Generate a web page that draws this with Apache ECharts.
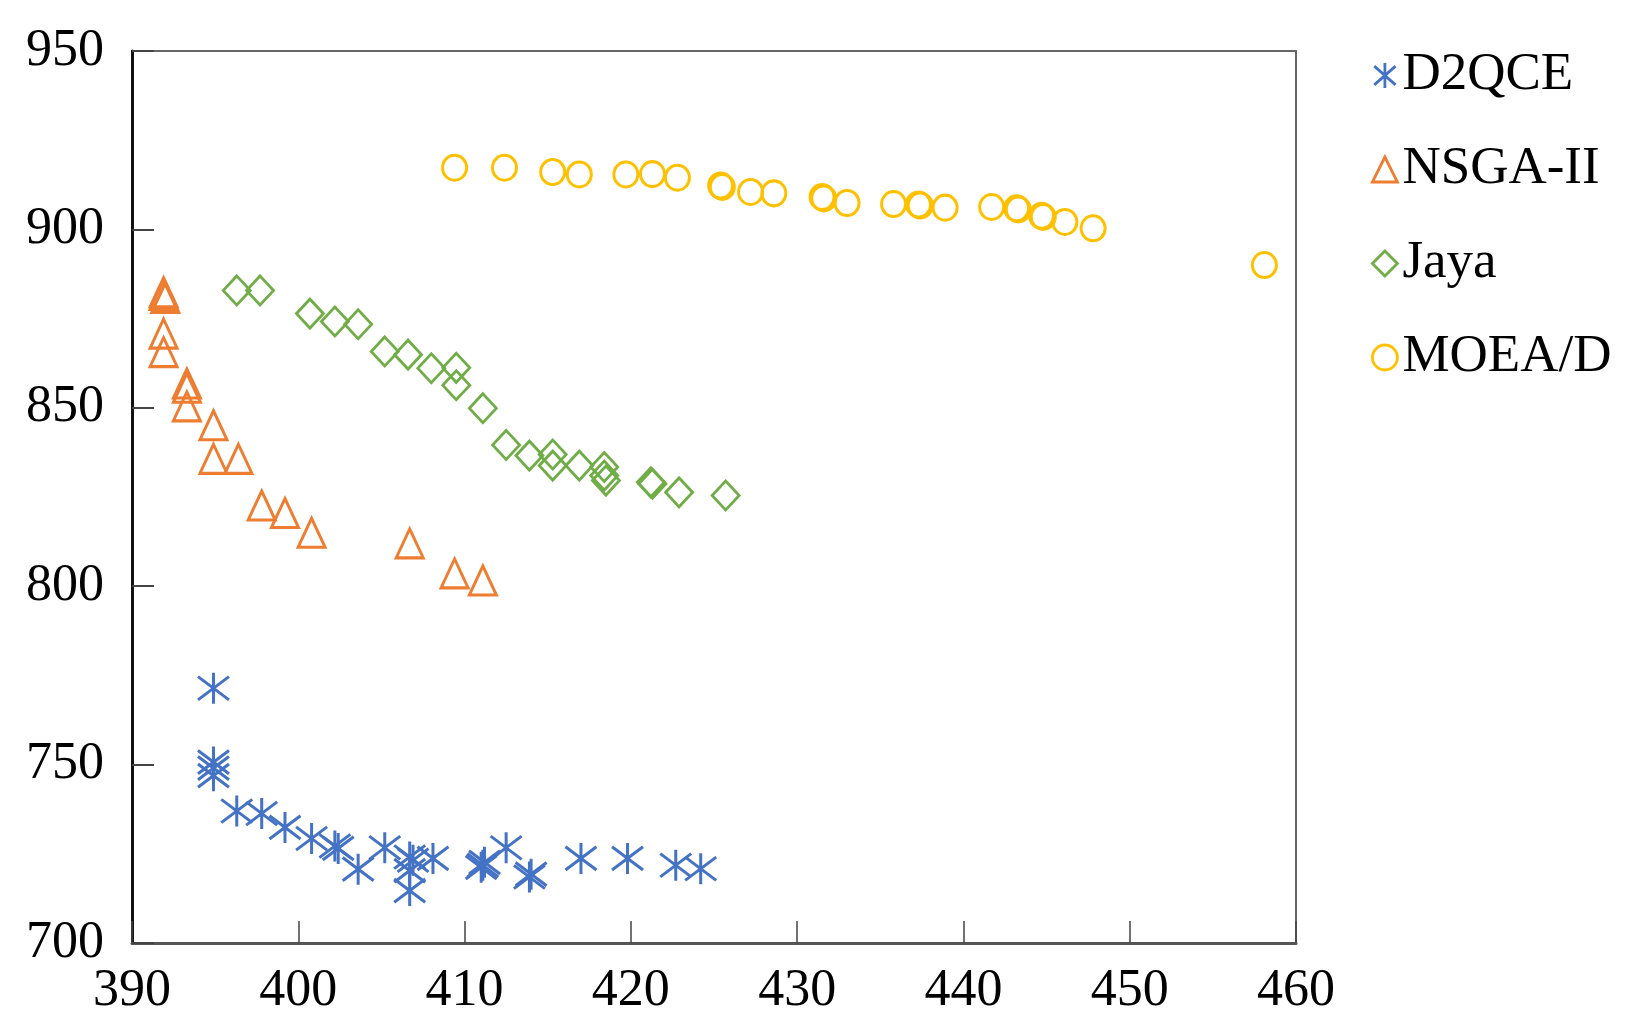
<!DOCTYPE html>
<html>
<head>
<meta charset="utf-8">
<script src="https://cdn.jsdelivr.net/npm/echarts@6/dist/echarts.min.js"></script>
<style>
  html, body { margin: 0; padding: 0; background: #fff; }
  #main { width: 1627px; height: 1028px; }
</style>
</head>
<body>
<div id="main"></div>
<script>
// values, [x, y]
const d2qce = [
  [394.9, 771.4], [394.9, 750.7], [394.9, 749.0], [394.9, 746.9], [396.3, 737.0],
  [397.8, 736.3], [399.2, 732.4], [400.8, 729.3], [402.2, 727.2], [402.4, 726.5],
  [403.6, 720.7], [405.2, 726.7], [406.7, 724.1], [406.9, 723.2], [406.7, 720.3],
  [406.7, 714.7], [408.1, 723.7], [411.1, 721.8], [411.2, 722.6], [411.0, 721.2],
  [412.5, 726.7], [413.9, 718.5], [414.0, 719.3], [417.0, 723.7], [419.8, 723.7],
  [422.7, 721.8], [424.2, 720.8]
];
const nsga2 = [
  [391.9, 882.4], [391.9, 881.6], [392.0, 880.8], [391.9, 870.8], [391.9, 865.6],
  [393.3, 856.8], [393.3, 855.6], [393.3, 850.4], [394.9, 845.1], [394.9, 835.7],
  [396.4, 835.7], [397.8, 822.6], [399.2, 820.5], [400.8, 815.0], [406.7, 812.0],
  [409.4, 803.6], [411.1, 801.6]
];
const jaya = [
  [396.3, 882.9], [397.7, 882.9], [400.7, 876.4], [402.2, 874.2], [403.6, 873.4],
  [405.2, 865.8], [406.6, 864.9], [408.0, 861.1], [409.5, 861.2], [409.5, 856.3],
  [411.1, 849.9], [412.5, 839.6], [413.9, 836.6], [415.3, 836.9], [415.3, 833.8],
  [416.9, 833.8], [418.4, 833.4], [418.4, 831.0], [418.5, 829.6], [421.3, 828.7],
  [421.2, 829.1], [422.9, 826.3], [425.7, 825.4]
];
const moead = [
  [409.4, 917.3], [412.4, 917.3], [415.3, 916.1], [416.9, 915.4], [419.7, 915.4],
  [421.3, 915.5], [422.8, 914.5], [425.5, 911.9], [425.4, 912.3], [427.2, 910.5],
  [428.6, 910.1], [431.6, 908.7], [431.5, 909.1], [433.0, 907.4], [435.8, 907.1],
  [437.4, 906.7], [437.3, 907.0], [438.9, 906.1], [441.7, 906.3], [443.3, 905.6],
  [443.2, 905.9], [444.8, 903.5], [444.7, 903.8], [446.1, 902.1], [447.8, 900.3],
  [458.1, 890.0]
];
const seriesNames = ['D2QCE', 'NSGA-II', 'Jaya', 'MOEA/D'];
const xTicks = [390, 460, 10];
const yTicks = [700, 950, 50];

const colors = ['#4472C4', '#ED7D31', '#70AD47', '#FFC000'];
const star = 'path://M1,0 L1,2 M0.15,0.25 L1.85,1.75 M0.15,1.75 L1.85,0.25';
const symbols = [star, 'triangle', 'diamond', 'circle'];
const sizes = [[31, 31], [27, 29], [27, 29], [24, 25]];
const borders = [3, 3, 2.8, 3];
const allData = [d2qce, nsga2, jaya, moead];

const font = 'Liberation Serif, Times New Roman, serif';

const chart = echarts.init(document.getElementById('main'));

const series = seriesNames.map(function (name, i) {
  return {
    name: name,
    type: 'scatter',
    data: allData[i],
    symbol: symbols[i],
    symbolSize: sizes[i],
    itemStyle: {
      color: 'rgba(0,0,0,0)',
      borderColor: colors[i],
      borderWidth: borders[i],
      opacity: 1
    },
    emphasis: { disabled: true },
    animation: false
  };
});

const option = {
  backgroundColor: '#fff',
  animation: false,
  grid: {
    left: 132, right: 331, top: 51, bottom: 85,
    show: true,
    borderColor: '#666',
    borderWidth: 2,
    backgroundColor: 'transparent'
  },
  legend: {
    orient: 'vertical',
    left: 1366,
    top: 44,
    itemWidth: 25,
    itemHeight: 25,
    itemGap: 41,
    textStyle: { fontFamily: font, fontSize: 53, color: '#000', lineHeight: 53 },
    itemTextGap: 12,
    selectedMode: false,
    data: seriesNames.map(function (n, i) {
      return {
        name: n,
        icon: symbols[i],
        itemStyle: { color: 'rgba(0,0,0,0)', borderColor: colors[i], borderWidth: 2.8 }
      };
    })
  },
  xAxis: {
    type: 'value',
    min: xTicks[0], max: xTicks[1], interval: xTicks[2],
    axisLine: { show: true, onZero: false, lineStyle: { color: '#555', width: 3 } },
    axisTick: { show: true, inside: true, length: 22, lineStyle: { color: '#444', width: 1.5 } },
    axisLabel: { fontFamily: font, fontSize: 52, color: '#000', margin: 22 },
    splitLine: { show: false }
  },
  yAxis: {
    type: 'value',
    min: yTicks[0], max: yTicks[1], interval: yTicks[2],
    axisLine: { show: true, onZero: false, lineStyle: { color: '#111', width: 3 } },
    axisTick: { show: true, inside: true, length: 22, lineStyle: { color: '#444', width: 2 } },
    axisLabel: { fontFamily: font, fontSize: 52, color: '#000', margin: 28 },
    splitLine: { show: false }
  },
  series: series
};

chart.setOption(option);
</script>
</body>
</html>
